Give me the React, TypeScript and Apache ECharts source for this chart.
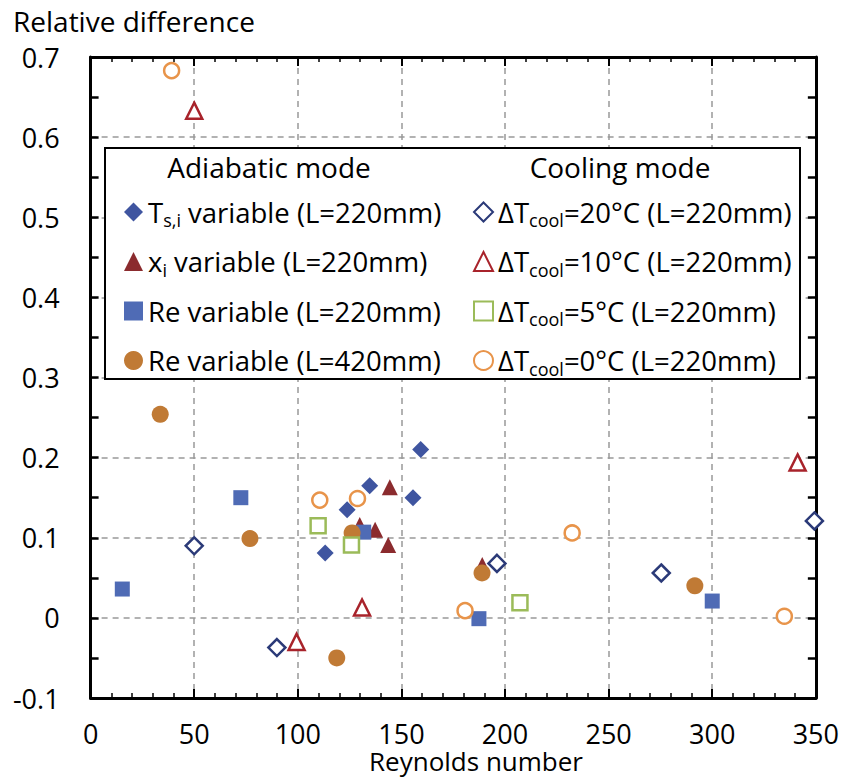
import React, { useEffect, useRef } from "react";
import * as echarts from "echarts";

const FONT = "'Open Sans', 'Noto Sans', sans-serif";

// Adiabatic mode
const tsiVariable: [number, number][] = [
  [113.2, 0.081], [123.8, 0.135], [134.7, 0.165], [155.6, 0.15], [159.3, 0.21],
];
const xiVariable: [number, number][] = [
  [129.9, 0.116], [137.3, 0.11], [143.6, 0.091], [144.4, 0.163], [189.0, 0.066],
];
const reVariable220: [number, number][] = [
  [15.3, 0.036], [72.5, 0.15], [131.8, 0.107], [187.4, -0.001], [300.0, 0.021],
];
const reVariable420: [number, number][] = [
  [33.6, 0.254], [76.9, 0.099], [118.8, -0.05], [126.2, 0.106], [188.9, 0.056], [291.6, 0.04],
];
// Cooling mode
const dT20: [number, number][] = [
  [50.0, 0.09], [89.9, -0.037], [196.1, 0.068], [275.4, 0.056], [349.3, 0.121],
];
const dT10: [number, number][] = [
  [50.0, 0.633], [99.4, -0.03], [131.0, 0.013], [341.2, 0.194],
];
const dT5: [number, number][] = [
  [109.8, 0.115], [125.9, 0.091], [207.2, 0.019],
];
const dT0: [number, number][] = [
  [39.1, 0.683], [110.6, 0.147], [128.8, 0.149], [180.7, 0.009], [232.4, 0.106], [334.8, 0.002],
];

const adiabaticNames = [
  "Ts,i variable (L=220mm)",
  "xi variable (L=220mm)",
  "Re variable (L=220mm)",
  "Re variable (L=420mm)",
];
const coolingNames = [
  "ΔTcool=20°C (L=220mm)",
  "ΔTcool=10°C (L=220mm)",
  "ΔTcool=5°C (L=220mm)",
  "ΔTcool=0°C (L=220mm)",
];
const richLabels: Record<string, string> = {
  "Ts,i variable (L=220mm)": "{n|T}{s|s,i}{n| variable (L=220mm)}",
  "xi variable (L=220mm)": "{n|x}{s|i}{n| variable (L=220mm)}",
  "Re variable (L=220mm)": "{n|Re variable (L=220mm)}",
  "Re variable (L=420mm)": "{n|Re variable (L=420mm)}",
  "ΔTcool=20°C (L=220mm)": "{n|ΔT}{s|cool}{n|=20°C (L=220mm)}",
  "ΔTcool=10°C (L=220mm)": "{n|ΔT}{s|cool}{n|=10°C (L=220mm)}",
  "ΔTcool=5°C (L=220mm)": "{n|ΔT}{s|cool}{n|=5°C (L=220mm)}",
  "ΔTcool=0°C (L=220mm)": "{n|ΔT}{s|cool}{n|=0°C (L=220mm)}",
};

const xTitle = "Reynolds number";
const yTitle = "Relative difference";
const legendHeaders = ["Adiabatic mode", "Cooling mode"];

export default function App() {
  const ref = useRef<HTMLDivElement>(null);
  useEffect(() => {
    if (!ref.current) return;
    const chart = echarts.init(ref.current, null, { renderer: "svg" });
    const gridLine = { show: true, lineStyle: { color: "#999", width: 1.5, type: [6, 5] as any } };
    const axisLine = { show: true, onZero: false, lineStyle: { color: "#000", width: 3 } };
    const legendText = {
      fontFamily: FONT,
      fontSize: 27.5,
      lineHeight: 34,
      rich: {
        n: { fontSize: 27.5, fontFamily: FONT, color: "#000", lineHeight: 34 },
        s: { fontSize: 18, fontFamily: FONT, color: "#000", lineHeight: 18, verticalAlign: "bottom" },
      },
    };
    const filled = (name: string, data: any, symbol: string, size: number, color: string) => ({
      name, type: "scatter", data, symbol, symbolSize: size,
      itemStyle: { color, opacity: 1 },
    });
    const hollow = (name: string, data: any, symbol: string, size: number, color: string) => ({
      name, type: "scatter", data, symbol, symbolSize: size,
      itemStyle: { color: "#fff", borderColor: color, borderWidth: 2.5, opacity: 1 },
    });
    const xTicks = {
      axisTick: { show: true, inside: true, length: 9, lineStyle: { color: "#000", width: 2 } },
      minorTick: { show: true, splitNumber: 5, length: 5, lineStyle: { color: "#000", width: 1.5 } },
    };
    const yTicks = {
      axisTick: { show: true, inside: true, length: 8, lineStyle: { color: "#000", width: 2.5 } },
      minorTick: { show: true, splitNumber: 2, length: 8, lineStyle: { color: "#000", width: 2.5 } },
    };
    chart.setOption({
      animation: false,
      backgroundColor: "#fff",
      grid: { left: 90.6, right: 25.5, top: 57, bottom: 82, containLabel: false },
      xAxis: [
        {
          type: "value", min: 0, max: 350, interval: 50, position: "bottom",
          axisLine, ...xTicks,
          splitLine: gridLine,
          axisLabel: { fontSize: 27, fontFamily: FONT, color: "#000", margin: 22 },
        },
        {
          type: "value", min: 0, max: 350, interval: 50, position: "top",
          axisLine, ...xTicks,
          splitLine: { show: false },
          axisLabel: { show: false },
        },
      ],
      yAxis: [
        {
          type: "value", min: -0.1, max: 0.7, interval: 0.1, position: "left",
          axisLine, ...yTicks,
          splitLine: gridLine,
          axisLabel: {
            fontSize: 27, fontFamily: FONT, color: "#000", margin: 31,
            formatter: (v: number) => String(parseFloat(v.toFixed(1))),
          },
        },
        {
          type: "value", min: -0.1, max: 0.7, interval: 0.1, position: "right",
          axisLine, ...yTicks,
          splitLine: { show: false },
          axisLabel: { show: false },
        },
      ],
      legend: [
        {
          data: adiabaticNames, orient: "vertical", left: 119, top: 190,
          itemWidth: 19, itemHeight: 19, itemGap: 15.5, selectedMode: false,
          formatter: (n: string) => richLabels[n] || n,
          textStyle: legendText, z: 5,
        },
        {
          data: coolingNames, orient: "vertical", left: 468, top: 190,
          itemWidth: 19, itemHeight: 19, itemGap: 15.5, selectedMode: false,
          formatter: (n: string) => richLabels[n] || n,
          textStyle: legendText, z: 5,
        },
      ],
      graphic: [
        {
          type: "rect", z: 3, shape: { x: 105, y: 148, width: 695, height: 231 },
          style: { fill: "#fff", stroke: "#000", lineWidth: 2 },
        },
        {
          type: "text", z: 5, x: 269, y: 167,
          style: { text: legendHeaders[0], fontSize: 28, fontFamily: FONT, fill: "#000", align: "center", verticalAlign: "middle" },
        },
        {
          type: "text", z: 5, x: 620, y: 167,
          style: { text: legendHeaders[1], fontSize: 28, fontFamily: FONT, fill: "#000", align: "center", verticalAlign: "middle" },
        },
        {
          type: "text", z: 5, x: 13, y: 21,
          style: { text: yTitle, fontSize: 28, fontFamily: FONT, fill: "#000", align: "left", verticalAlign: "middle" },
        },
        {
          type: "text", z: 5, x: 476, y: 761,
          style: { text: xTitle, fontSize: 26, fontFamily: FONT, fill: "#000", align: "center", verticalAlign: "middle" },
        },
      ],
      series: [
        filled(adiabaticNames[0], tsiVariable, "diamond", 17, "#3F55A0"),
        filled(adiabaticNames[1], xiVariable, "triangle", 16, "#8B2B2E"),
        filled(adiabaticNames[2], reVariable220, "rect", 15, "#4F6BB5"),
        filled(adiabaticNames[3], reVariable420, "circle", 17, "#C07A35"),
        hollow(coolingNames[0], dT20, "diamond", 17, "#2B3A78"),
        hollow(coolingNames[1], dT10, "triangle", 16, "#A8232B"),
        hollow(coolingNames[2], dT5, "rect", 15, "#9BBB59"),
        hollow(coolingNames[3], dT0, "circle", 15, "#E8944A"),
      ],
    });
    return () => chart.dispose();
  }, []);
  return (
    <div
      ref={ref}
      style={{ position: "absolute", left: 0, top: 0, width: 842, height: 780 }}
    />
  );
}
